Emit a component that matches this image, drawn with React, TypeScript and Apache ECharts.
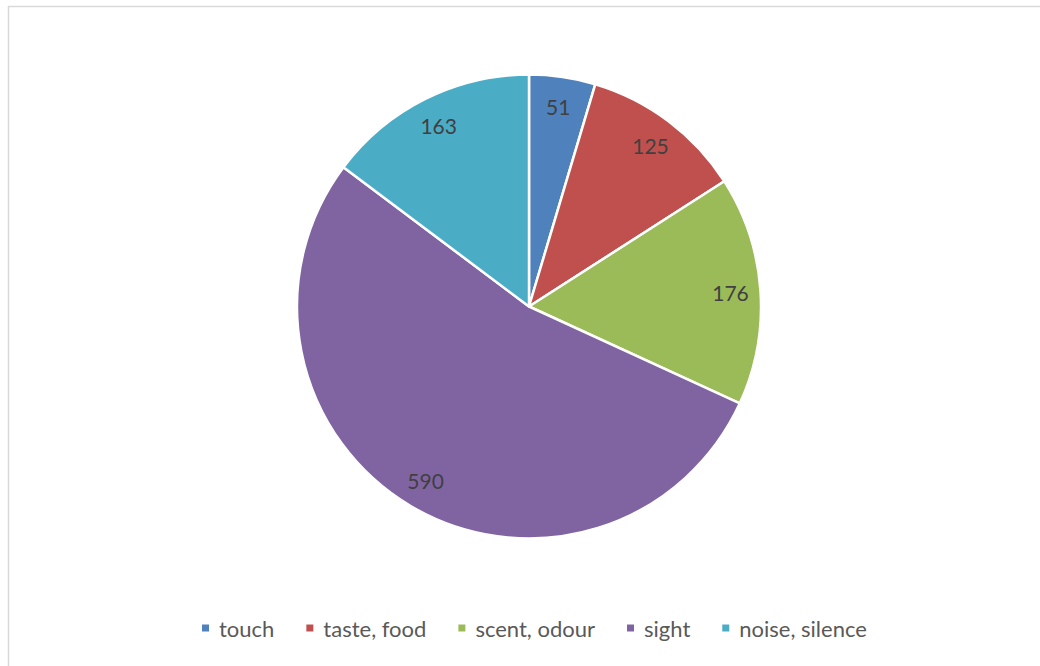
import React, { useEffect, useRef } from "react";
import * as echarts from "echarts";

const categories = ["touch", "taste, food", "scent, odour", "sight", "noise, silence"];
const values = [51, 125, 176, 590, 163];
const colors = ["#4F81BD", "#C0504D", "#9BBB59", "#8064A2", "#4BACC6"];

export default function App() {
  const ref = useRef<HTMLDivElement>(null);
  useEffect(() => {
    if (!ref.current) return;
    const chart = echarts.init(ref.current, null, { renderer: "svg" });
    const data = categories.map((name, i) => ({
      name,
      value: values[i],
      itemStyle: { color: colors[i] },
    }));
    chart.setOption({
      animation: false,
      backgroundColor: "#ffffff",
      graphic: [
        {
          type: "rect",
          shape: { x: 8.5, y: 6.5, width: 1100, height: 700 },
          style: { fill: "none", stroke: "#d9d9d9", lineWidth: 1.5 },
          silent: true,
        },
      ],
      legend: {
        data: categories,
        bottom: 22,
        left: 195,
        icon: "rect",
        itemWidth: 9,
        itemHeight: 9,
        itemGap: 30,
        textStyle: {
          fontFamily: "Lato",
          fontSize: 22,
          color: "#595959",
          padding: [0, 0, 0, 4],
        },
      },
      series: [
        {
          type: "pie",
          center: [529, 306.5],
          radius: [0, 232],
          startAngle: 90,
          clockwise: true,
          label: { show: false },
          labelLine: { show: false },
          itemStyle: { borderColor: "#ffffff", borderWidth: 2.5 },
          emphasis: { disabled: true },
          data,
        },
        {
          type: "pie",
          center: [529, 306.5],
          radius: [166, 232],
          startAngle: 90,
          clockwise: true,
          silent: true,
          legendHoverLink: false,
          itemStyle: { color: "rgba(0,0,0,0)", borderWidth: 0 },
          label: {
            show: true,
            position: "inside",
            formatter: "{c}",
            fontFamily: "Lato",
            fontSize: 21,
            color: "#404040",
          },
          labelLine: { show: false },
          emphasis: { disabled: true },
          data: categories.map((name, i) => ({ name, value: values[i] })),
        },
      ],
    });
    return () => chart.dispose();
  }, []);
  return (
    <div
      ref={ref}
      style={{ position: "fixed", left: 0, top: 0, width: 1040, height: 666 }}
    />
  );
}
